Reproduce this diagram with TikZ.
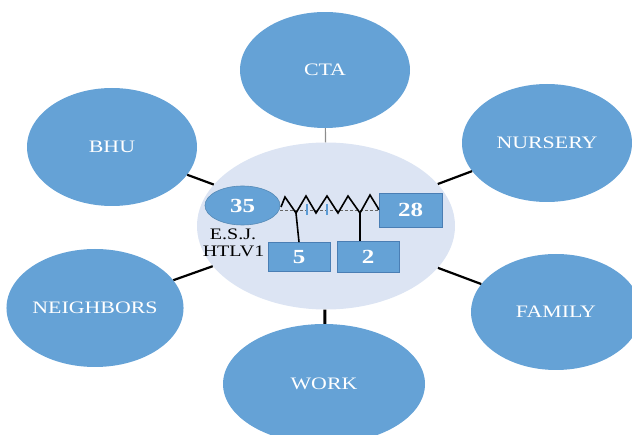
\documentclass[tikz,border=0pt]{standalone}
\usepackage{fontspec}
\setmainfont{Liberation Serif}[FakeStretch=1.25]
\usetikzlibrary{shapes.geometric}
\definecolor{bubble}{RGB}{101,162,214}
\definecolor{bubbleline}{RGB}{74,126,180}
\definecolor{core}{RGB}{220,228,243}
\definecolor{tick}{RGB}{91,155,213}
\tikzset{
  sat/.style={ellipse, fill=bubble, inner sep=0pt, text=white,
    font=\fontsize{17.5}{20}\selectfont},
  link/.style={line width=2.2pt, black},
  numbox/.style={rectangle, fill=bubble, draw=bubbleline, line width=0.8pt,
    inner sep=0pt, text=white, font=\bfseries\fontsize{20}{22}\selectfont},
  caption/.style={text=black, font=\fontsize{16}{18}\selectfont, inner sep=0pt}
}
\begin{document}
\begin{tikzpicture}[x=1pt,y=-1pt]
\useasboundingbox (0,0) rectangle (632,435);
\clip (0,13) rectangle (632,435);

% central hub
\node[ellipse, fill=core, inner sep=0pt, minimum width=258pt, minimum height=167pt] (hub) at (326,226) {};

% surrounding groups
\node[sat, minimum width=170pt, minimum height=116pt] (cta) at (325,70) {CTA};
\node[sat, minimum width=170pt, minimum height=118pt] (bhu) at (112,147) {BHU};
\node[sat, minimum width=170pt, minimum height=118pt] (nursery) at (547,143) {NURSERY};
\node[sat, minimum width=170pt, minimum height=118pt] (neigh) at (95,308) {NEIGHBORS};
\node[sat, minimum width=170pt, minimum height=116pt] (family) at (556,312) {FAMILY};
\node[sat, minimum width=202pt, minimum height=120pt] (work) at (324,384) {WORK};

% links to the hub
\draw[line width=1.2pt, black!45] (cta) -- (hub);
\draw[link] (bhu) -- (hub);
\draw[link] (nursery) -- (hub);
\draw[link] (neigh) -- (hub);
\draw[link] (family) -- (hub);
\draw[line width=3pt, black] (work) -- (hub);

% index case and contacts
\node[ellipse, fill=bubble, draw=bubble!85!black, line width=0.6pt, inner sep=0pt,
  minimum width=75pt, minimum height=39pt, text=white,
  font=\bfseries\fontsize{20}{22}\selectfont] (e35) at (242.5,205.5) {35};
\node[caption] (esj) at (233,234.5) {E.S.J.};
\node[caption] (htlv) at (233.5,251) {HTLV1};
\node[numbox, minimum width=63pt, minimum height=34pt] (b28) at (410.5,210) {28};
\node[numbox, minimum width=62pt, minimum height=29pt] (b5) at (299,257) {5};
\node[numbox, minimum width=62pt, minimum height=31pt] (b2) at (368,256.5) {2};

% transmission chain
\coordinate (v1) at (296,213);
\coordinate (v2) at (360,213);
\draw[black!60, line width=0.6pt, dash pattern=on 3pt off 2pt]
  (e35.east |- 0,210) -- (b28.west |- 0,210);
\draw[black, line width=1.6pt, line join=miter]
  (281,207) -- (285,197) -- (v1) -- (306,196) -- (316,213) -- (327,196)
  -- (338,213) -- (348,196) -- (v2) -- (370,195) -- (378,208) -- (b28.west);
\draw[tick, line width=2pt] (306.7,204) -- (306.7,215);
\draw[tick, line width=2pt] (326.7,204) -- (326.7,215);
\draw[black, line width=1.6pt] (v1) -- (b5.north);
\draw[black, line width=1.6pt] (v2) -- (v2 |- b2.north);
\end{tikzpicture}
\end{document}
